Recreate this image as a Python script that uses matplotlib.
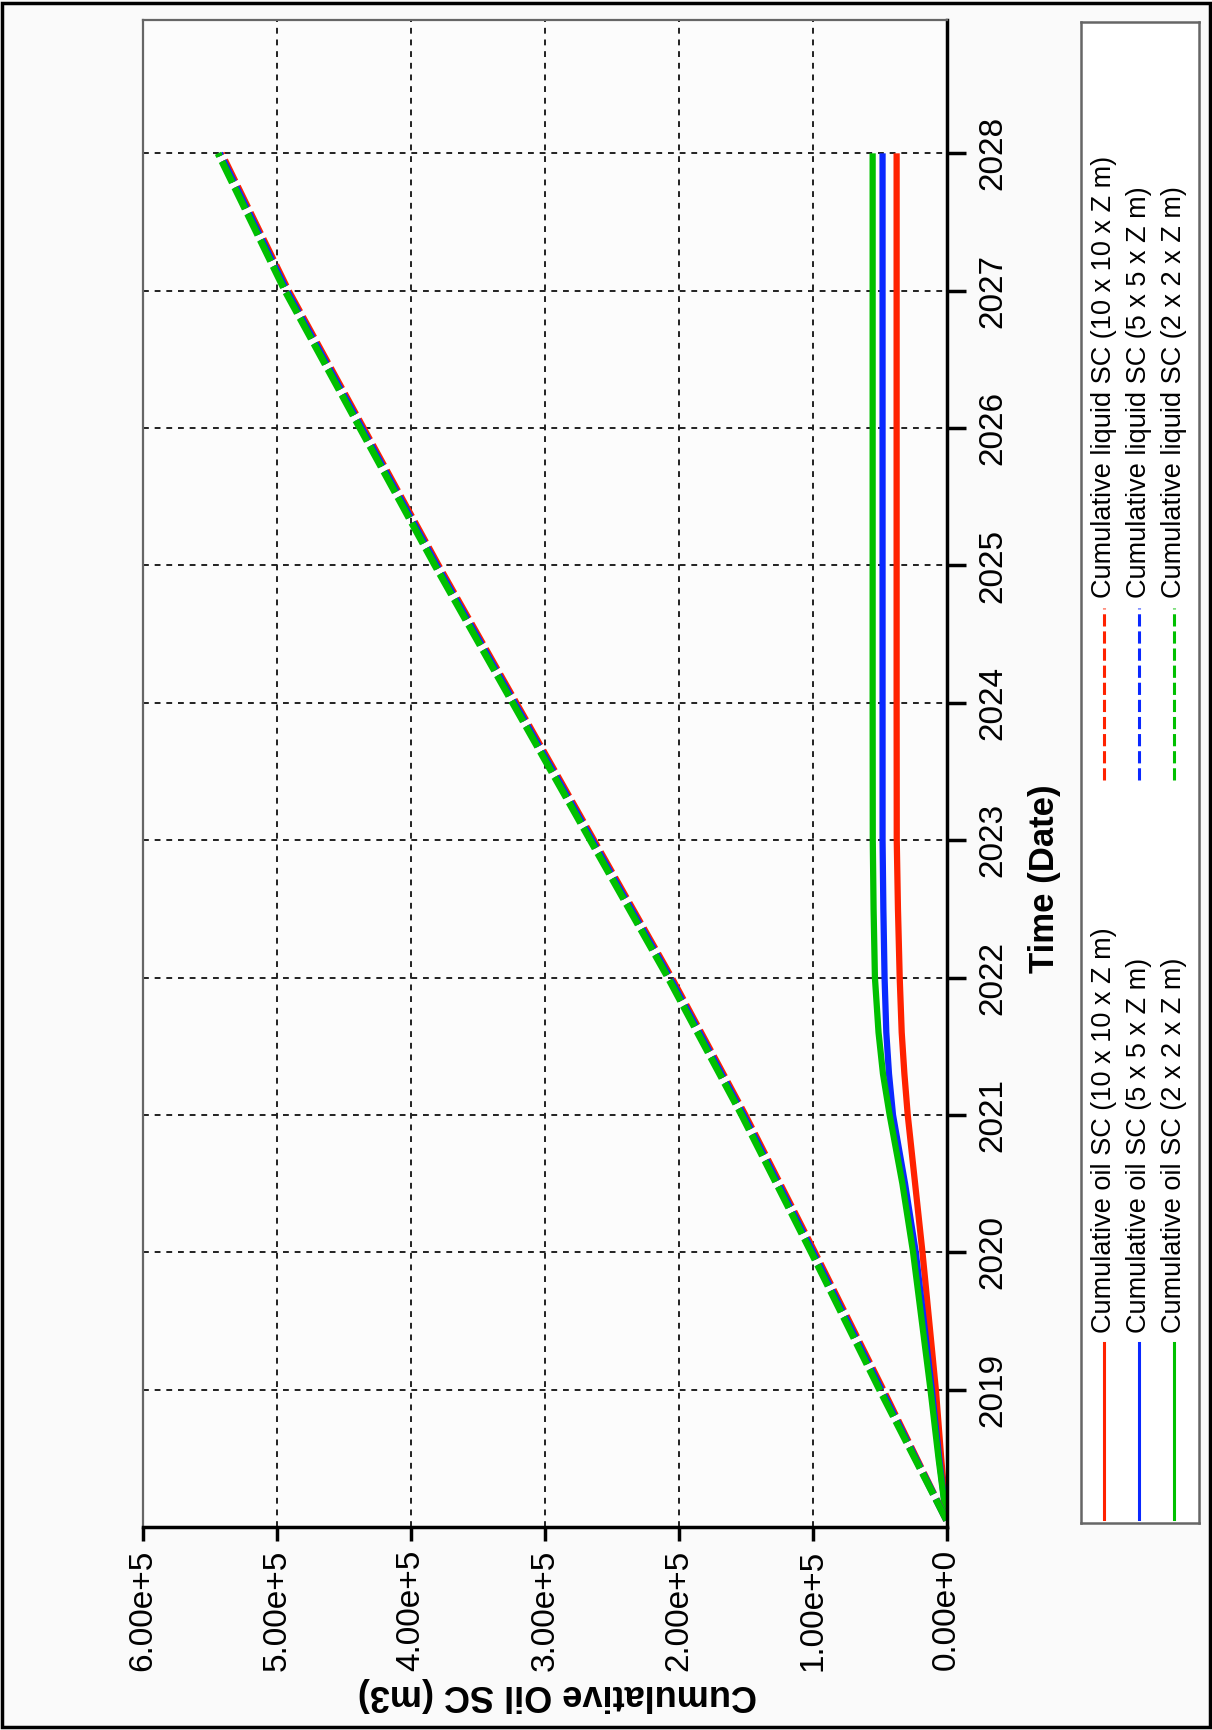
import matplotlib
matplotlib.use("Agg")
import matplotlib.pyplot as plt
from matplotlib.patches import Rectangle

plt.rcParams['font.family'] = ['Liberation Sans', 'DejaVu Sans']

# time axis (years) and cumulative values (m3)
years_oil = [2018.05, 2018.5, 2019, 2019.5, 2020, 2020.5, 2021, 2021.3, 2021.6, 2022, 2022.5, 2023, 2024, 2025, 2026, 2027, 2028]
oil_10 = [0, 4000, 8000, 13000, 18000, 23500, 29000, 31500, 33500, 35000, 36300, 37200, 37300, 37300, 37300, 37300, 37300]
oil_5 = [0, 5500, 11000, 17000, 23000, 31000, 40000, 43000, 45000, 46300, 47200, 47800, 47800, 47800, 47800, 47800, 47800]
oil_2 = [0, 6000, 12000, 18500, 25000, 33000, 42500, 47500, 50800, 53500, 54500, 55100, 55200, 55200, 55200, 55200, 55200]

years_liq = [2018.05, 2019, 2020, 2021, 2022, 2023, 2024, 2025, 2026, 2027, 2028]
liq_10 = [0, 47500, 98500, 150500, 205500, 263500, 321500, 379500, 435500, 491500, 541500]
liq_5 = [0, 48800, 99800, 151800, 206800, 264800, 322800, 380800, 436800, 492800, 542800]
liq_2 = [0, 50000, 101000, 153000, 208000, 266000, 324000, 382000, 438000, 494000, 544000]

cum_ticks = [0, 100000, 200000, 300000, 400000, 500000, 600000]
cum_ticklabels = ["0.00e+0", "1.00e+5", "2.00e+5", "3.00e+5", "4.00e+5", "5.00e+5", "6.00e+5"]
year_ticks = [2019, 2020, 2021, 2022, 2023, 2024, 2025, 2026, 2027, 2028]

labels_oil = ["Cumulative oil SC (10 x 10 x Z m)", "Cumulative oil SC (5 x 5 x Z m)", "Cumulative oil SC (2 x 2 x Z m)"]
labels_liq = ["Cumulative liquid SC (10 x 10 x Z m)", "Cumulative liquid SC (5 x 5 x Z m)", "Cumulative liquid SC (2 x 2 x Z m)"]
colors = ['#ff2200', '#0a28ff', '#00c000']

fig = plt.figure(figsize=(12.12, 17.30), dpi=100, facecolor='#fafafa')
ax = fig.add_axes([0.118, 0.1173, 0.663, 0.8711], facecolor='#fcfcfc')

# chart is drawn turned a quarter turn: time runs up, cumulative runs to the left
for vals, c in zip([oil_10, oil_5, oil_2], colors):
    ax.plot(vals, years_oil, color=c, lw=4.5, solid_capstyle='butt')
for vals, c in zip([liq_10, liq_5, liq_2], colors):
    ax.plot(vals, years_liq, color=c, lw=5, dashes=(3.4, 0.8))

ax.set_xlim(600000, 0)
ax.set_ylim(2018.0, 2028.97)
ax.set_xticks(cum_ticks)
ax.set_xticklabels(cum_ticklabels, rotation=90)
ax.set_yticks(year_ticks)
ax.yaxis.tick_right()
ax.set_yticklabels([str(y) for y in year_ticks], rotation=90, va='center')
ax.tick_params(axis='x', labelsize=24, length=10, width=2.5, pad=6)
ax.tick_params(axis='y', labelsize=24, length=14, width=2.5, pad=8)

ax.set_axisbelow(True)
ax.grid(True, color='#222222', lw=1.4, ls=(0, (3, 3)))

for s in ['bottom', 'right']:
    ax.spines[s].set_color('black')
    ax.spines[s].set_linewidth(2.5)
for s in ['top', 'left']:
    ax.spines[s].set_color('#666666')
    ax.spines[s].set_linewidth(1.6)

ax.set_xlabel("Cumulative Oil SC (m3)", fontsize=26, fontweight='bold', rotation=180)
ax.xaxis.set_label_coords(0.516, -0.111)
ax.xaxis.label.set_va('center')
ax.yaxis.set_label_position('right')
ax.set_ylabel("Time (Date)", fontsize=25, fontweight='bold', rotation=90)
ax.yaxis.set_label_coords(1.122, 0.430)
ax.yaxis.label.set_va('center')

# legend box, drawn by hand since it is turned too
lax = fig.add_axes([0.892, 0.1197, 0.0974, 0.8676], facecolor='#ffffff')
lax.set_xlim(0, 118)
lax.set_ylim(0, 1501)
lax.set_xticks([])
lax.set_yticks([])
for s in lax.spines.values():
    s.set_color('#666666')
    s.set_linewidth(1.8)
rows = [23, 58, 93]
for x, c, lab in zip(rows, colors, labels_oil):
    lax.plot([x, x], [4, 180], color=c, lw=2.2)
    lax.text(x, 190, lab, rotation=90, ha='center', va='bottom', fontsize=19.5)
for x, c, lab in zip(rows, colors, labels_liq):
    lax.plot([x, x], [743, 915], color=c, lw=2.2, dashes=(4, 1.6))
    lax.text(x, 925, lab, rotation=90, ha='center', va='bottom', fontsize=19.5)

fig.patches.append(Rectangle((0.002, 0.0015), 0.996, 0.997, transform=fig.transFigure,
                             fill=False, lw=2.5, ec='black'))

fig.savefig("out.png", dpi=100, facecolor=fig.get_facecolor())
